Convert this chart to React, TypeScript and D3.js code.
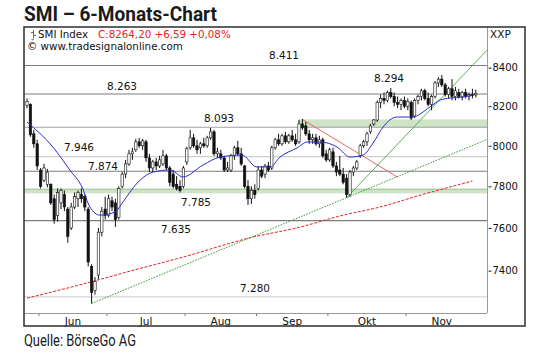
import { useEffect, useRef } from "react";
import * as d3 from "d3";

// SMI daily candles, late May to late Nov 2013
const opens = [
  8205, 8210, 8060, 8010, 7880, 7830, 7810, 7810, 7740, 7660, 7720, 7760, 7690, 7600, 7700, 7740, 7760, 7750, 7690, 7420,
  7310, 7380, 7580, 7690, 7660, 7730, 7720, 7650, 7800, 7860, 7910, 7960, 7980, 8020, 8000, 8020, 7940, 7890, 7920, 7900,
  7910, 7950, 7890, 7860, 7810, 7800, 7800, 7920, 7990, 8040, 8000, 7990, 8010, 8000, 8040, 8070, 7960, 7960, 7940, 7880,
  7880, 7950, 7990, 7960, 7900, 7800, 7740, 7780, 7790, 7880, 7860, 7900, 7890, 7990, 8030, 8010, 8050, 8020, 8050, 8030,
  8020, 8110, 8100, 8060, 8030, 8040, 8010, 8030, 7960, 7930, 7970, 7900, 7880, 7860, 7840, 7760, 7870, 7890, 7950, 8000,
  8020, 8070, 8110, 8130, 8220, 8240, 8230, 8270, 8250, 8220, 8210, 8230, 8200, 8220, 8150, 8230, 8250, 8280, 8240, 8210,
  8250, 8320, 8340, 8310, 8260, 8290, 8250, 8270, 8250, 8270, 8250, 8260, 8258,
];
const highs = [
  8240, 8215, 8080, 8030, 7890, 7910, 7885, 7815, 7760, 7790, 7790, 7780, 7700, 7720, 7770, 7780, 7790, 7760, 7700, 7430,
  7370, 7600, 7700, 7750, 7760, 7750, 7740, 7800, 7870, 7930, 7980, 7990, 8035, 8040, 8035, 8030, 7960, 7930, 7940, 7950,
  7980, 7960, 7900, 7880, 7850, 7830, 7900, 7995, 8080, 8060, 8030, 8020, 8040, 8050, 8090, 8080, 7990, 7980, 7950, 7920,
  7960, 8000, 8025, 7990, 7905, 7830, 7800, 7810, 7900, 7900, 7910, 7920, 8000, 8040, 8060, 8060, 8070, 8060, 8080, 8060,
  8130, 8135, 8120, 8080, 8060, 8060, 8050, 8040, 7980, 7990, 7990, 7920, 7950, 7890, 7860, 7880, 7900, 7930, 8010, 8030,
  8070, 8110, 8135, 8230, 8260, 8270, 8280, 8294, 8270, 8250, 8240, 8250, 8240, 8230, 8240, 8260, 8290, 8290, 8270, 8260,
  8330, 8350, 8362, 8320, 8300, 8340, 8300, 8290, 8280, 8290, 8270, 8290, 8285,
];
const lows = [
  8190, 8045, 7990, 7880, 7790, 7820, 7795, 7710, 7620, 7630, 7690, 7680, 7530, 7590, 7690, 7700, 7720, 7680, 7420, 7250,
  7290, 7360, 7560, 7640, 7650, 7680, 7605, 7640, 7790, 7840, 7900, 7930, 7970, 7990, 7980, 7920, 7870, 7870, 7880, 7890,
  7900, 7880, 7800, 7790, 7780, 7770, 7790, 7905, 7980, 7990, 7960, 7960, 7990, 7990, 8030, 7950, 7940, 7930, 7870, 7870,
  7870, 7930, 7950, 7900, 7790, 7710, 7715, 7740, 7780, 7840, 7840, 7870, 7880, 7980, 8000, 8000, 8010, 8010, 8020, 8000,
  8010, 8080, 8050, 8010, 8010, 8000, 7990, 7940, 7920, 7920, 7890, 7850, 7850, 7810, 7745, 7750, 7850, 7880, 7940, 7990,
  8000, 8060, 8100, 8120, 8190, 8210, 8220, 8240, 8200, 8190, 8180, 8190, 8180, 8130, 8140, 8210, 8230, 8230, 8200, 8180,
  8240, 8300, 8300, 8250, 8240, 8230, 8230, 8240, 8230, 8240, 8230, 8240, 8245,
];
const closes = [
  8225, 8055, 8010, 7900, 7800, 7890, 7870, 7720, 7640, 7770, 7780, 7700, 7560, 7700, 7750, 7770, 7740, 7700, 7440, 7300,
  7350, 7580, 7680, 7660, 7740, 7700, 7640, 7790, 7860, 7910, 7960, 7970, 8020, 8000, 8025, 7940, 7890, 7920, 7900, 7930,
  7950, 7890, 7820, 7800, 7790, 7780, 7890, 7985, 8040, 8000, 7980, 8010, 8000, 8040, 8070, 7960, 7970, 7940, 7880, 7890,
  7950, 7990, 7960, 7910, 7800, 7740, 7780, 7760, 7880, 7850, 7900, 7880, 7990, 8030, 8010, 8050, 8020, 8050, 8030, 8010,
  8110, 8090, 8060, 8030, 8040, 8010, 8030, 7950, 7930, 7980, 7900, 7870, 7860, 7820, 7760, 7870, 7890, 7920, 8000, 8020,
  8060, 8100, 8130, 8220, 8240, 8230, 8270, 8250, 8220, 8210, 8230, 8200, 8225, 8140, 8230, 8250, 8280, 8240, 8210, 8250,
  8320, 8340, 8310, 8260, 8290, 8250, 8280, 8250, 8270, 8250, 8260, 8258, 8264,
];

// moving averages, read at [bar index, value]
const fastAverage: [number, number][] = [
  [0, 8120], [7.6, 7994], [12.6, 7880], [16.2, 7796], [18.5, 7700], [21.5, 7661], [25.9, 7676], [28.2, 7724],
  [32.4, 7816], [37.1, 7870], [42.1, 7880], [45.9, 7846], [51.8, 7905], [56.8, 7944], [63.2, 7954], [67.6, 7895],
  [71.5, 7895], [74.4, 7944], [79.4, 7989], [82.4, 8019], [86.2, 8019], [91.2, 7994], [95, 7944], [98.8, 7954],
  [101.8, 8014], [104.7, 8094], [108.8, 8145], [113.2, 8145], [118.5, 8196], [121.5, 8232], [124.4, 8242],
  [128.2, 8247], [131, 8258],
];
const slowAverage: [number, number][] = [
  [0, 7274], [18.5, 7347], [30.3, 7398], [45, 7459], [66.5, 7557], [80.3, 7604], [92, 7657], [103.8, 7700],
  [115.6, 7757], [131, 7826],
];

// trend lines [bar index, price]
const supportLine: [number, number][] = [[19, 7250], [94, 7745]];
const steepLine: [number, number][] = [[94, 7745], [132, 8430]];
const resistanceLine: [number, number][] = [[81, 8133], [109, 7845]];

// horizontal levels
const levelValues = [8411, 8263, 8294, 8093, 7946, 7874, 7785, 7635, 7280];
const levelLabels = ["8.411", "8.263", "8.294", "8.093", "7.946", "7.874", "7.785", "7.635", "7.280"];
const upperZone = [8093, 8133];
const upperZoneStart = 80;
const lowerZone = [7766, 7790];

const months = ["Jun", "Jul", "Aug", "Sep", "Okt", "Nov"];
const monthStarts = [4, 24, 47, 68, 89, 112];
const monthDays = [20, 23, 21, 21, 23, 21];
const priceTicks = [7400, 7600, 7800, 8000, 8200, 8400];

const plot = { left: 24, top: 27, right: 487, bottom: 313 };
const frame = { left: 24, top: 27, right: 525, bottom: 326 };
const chartFont = "'DejaVu Sans', Verdana, sans-serif";
const titleFont = "Roboto, 'Open Sans', sans-serif";

const xScale = d3.scaleLinear().domain([0, closes.length - 1]).range([27, 475.8]);
const yScale = d3.scaleLog().domain([7207, 8616]).range([plot.bottom, plot.top]);

// which levels get a line, and how dark
const lineColour: Record<number, string> = {
  8411: "#7c7c7c",
  8263: "#7c7c7c",
  8093: "#a2a2a2",
  7946: "#cfcfcf",
  7874: "#7c7c7c",
  7635: "#7c7c7c",
  7280: "#d4d4d4",
};
const labelSpots = [
  { x: 284, dy: -7 },
  { x: 122, dy: -4.5 },
  { x: 389, dy: -6 },
  { x: 219, dy: -5.3 },
  { x: 79, dy: -5.6 },
  { x: 103, dy: -1.7 },
  { x: 196, dy: 16.7 },
  { x: 176, dy: 12.5 },
  { x: 255, dy: -4.7 },
];

function extendTo(pts: [number, number][], xEnd: number | null) {
  const x1 = xScale(pts[0][0]);
  const y1 = yScale(pts[0][1]);
  const x2 = xScale(pts[1][0]);
  const y2 = yScale(pts[1][1]);
  if (xEnd === null) return { x1, y1, x2, y2 };
  const k = (y2 - y1) / (x2 - x1);
  return { x1, y1, x2: xEnd, y2: y1 + k * (xEnd - x1) };
}

function PriceAxis() {
  const ref = useRef<SVGGElement>(null);

  useEffect(() => {
    if (ref.current) {
      const g = d3.select(ref.current);
      g.call(
        d3
          .axisRight(yScale)
          .tickValues(priceTicks)
          .tickSize(3)
          .tickPadding(1)
          .tickFormat(d3.format("d"))
      );
      g.select(".domain").remove();
      g.selectAll("line").attr("stroke", "#222");
      g.selectAll("text").attr("font-family", chartFont).attr("font-size", 10).attr("fill", "#111");
    }
  }, []);

  return <g ref={ref} transform={`translate(${plot.right + 1.5},0)`} />;
}

function Candles() {
  const w = 2.4;
  return (
    <g>
      {closes.map((c, i) => {
        const o = opens[i];
        const cx = xScale(i);
        const up = c >= o;
        const top = yScale(Math.max(o, c));
        const bottom = yScale(Math.min(o, c));
        return (
          <g key={i}>
            <line x1={cx} x2={cx} y1={yScale(highs[i])} y2={yScale(lows[i])} stroke="#111" strokeWidth={1} />
            <rect
              x={cx - w / 2}
              y={top}
              width={w}
              height={Math.max(bottom - top, 0.8)}
              fill={up ? "#ffffff" : "#111"}
              stroke="#111"
              strokeWidth={0.6}
            />
          </g>
        );
      })}
    </g>
  );
}

export default function App() {
  const avgLine = d3
    .line<[number, number]>()
    .x((d) => xScale(d[0]))
    .y((d) => yScale(d[1]))
    .curve(d3.curveMonotoneX);

  const support = extendTo(supportLine, plot.right);
  const steep = extendTo(steepLine, plot.right);
  const resist = extendTo(resistanceLine, null);

  return (
    <svg
      width={540}
      height={360}
      style={{ position: "absolute", left: 0, top: 0, background: "#fff" }}
    >
      <text x={24} y={21} fontFamily={titleFont} fontWeight={700} fontSize={19.5} fill="#1a1a1a" textLength={193} lengthAdjust="spacingAndGlyphs">
        SMI – 6-Monats-Chart
      </text>

      <defs>
        <clipPath id="plotClip">
          <rect x={plot.left} y={plot.top} width={plot.right - plot.left} height={plot.bottom - plot.top} />
        </clipPath>
      </defs>

      <g clipPath="url(#plotClip)">
        {/* zones */}
        <rect
          x={xScale(upperZoneStart) - 1}
          y={yScale(upperZone[1])}
          width={plot.right - xScale(upperZoneStart) + 1}
          height={yScale(upperZone[0]) - yScale(upperZone[1])}
          fill="#cfe3c7"
        />
        <rect
          x={plot.left}
          y={yScale(lowerZone[1])}
          width={plot.right - plot.left}
          height={yScale(lowerZone[0]) - yScale(lowerZone[1])}
          fill="#cfe3c7"
        />
        <line x1={plot.left} x2={plot.right} y1={yScale(7785)} y2={yScale(7785)} stroke="#a9c9a1" strokeWidth={1} />

        {/* horizontal levels */}
        {levelValues
          .filter((v) => lineColour[v])
          .map((v) => (
            <line key={v} x1={plot.left} x2={plot.right} y1={yScale(v)} y2={yScale(v)} stroke={lineColour[v]} strokeWidth={1.1} />
          ))}

        {/* slow average */}
        <path d={avgLine(slowAverage) ?? ""} fill="none" stroke="#e02424" strokeWidth={1} strokeDasharray="3 1.5" />

        {/* trend lines */}
        <line {...support} stroke="#2f8f2f" strokeWidth={0.9} strokeDasharray="1.6 1.2" />
        <line {...steep} stroke="#4aa84a" strokeWidth={0.9} />
        <line {...resist} stroke="#e06a6a" strokeWidth={1} />

        <Candles />

        {/* fast average */}
        <path d={avgLine(fastAverage) ?? ""} fill="none" stroke="#2b2bd0" strokeWidth={1} />
      </g>

      {levelLabels.map((t, i) => (
        <text
          key={t}
          x={labelSpots[i].x}
          y={yScale(levelValues[i]) + labelSpots[i].dy}
          textAnchor="middle"
          fontFamily={chartFont}
          fontSize={10.5}
          fill="#111"
        >
          {t}
        </text>
      ))}

      {/* legend */}
      <path d="M33.5,30 v8 M31,32.5 h2.5 M33.5,35.5 h2.5 M31.5,39.5 q2,1.5 2,-1" fill="none" stroke="#444" strokeWidth={0.8} />
      <text x={38} y={38} fontFamily={chartFont} fontSize={10.3} fill="#111">
        SMI Index
      </text>
      <text x={98} y={38} fontFamily={chartFont} fontSize={10.3} fill="#e8231e">
        C:8264,20 +6,59 +0,08%
      </text>
      <text x={27} y={50} fontFamily={chartFont} fontSize={10.3} fill="#111">
        © www.tradesignalonline.com
      </text>
      <text x={490} y={38} fontFamily={chartFont} fontSize={10.5} fill="#111">
        XXP
      </text>

      {/* plot borders */}
      <line x1={plot.right + 0.5} x2={plot.right + 0.5} y1={plot.top} y2={plot.bottom} stroke="#9a9a9a" />
      <line x1={plot.left} x2={plot.right} y1={plot.bottom + 0.5} y2={plot.bottom + 0.5} stroke="#9a9a9a" />

      <PriceAxis />

      {/* month axis */}
      {monthStarts.map((s, i) => (
        <g key={months[i]}>
          <line x1={xScale(s - 0.5)} x2={xScale(s - 0.5)} y1={plot.bottom + 1} y2={plot.bottom + 3} stroke="#777" />
          <text
            x={xScale(s + monthDays[i] / 2 - 0.5)}
            y={plot.bottom + 12}
            textAnchor="middle"
            fontFamily={chartFont}
            fontSize={10.5}
            fill="#111"
          >
            {months[i]}
          </text>
        </g>
      ))}

      <rect
        x={frame.left}
        y={frame.top}
        width={frame.right - frame.left}
        height={frame.bottom - frame.top}
        fill="none"
        stroke="#3a3a3a"
        strokeWidth={1.6}
      />

      <text x={24} y={346} fontFamily={titleFont} fontSize={16} fill="#1a1a1a" textLength={112} lengthAdjust="spacingAndGlyphs">
        Quelle: BörseGo AG
      </text>
    </svg>
  );
}
